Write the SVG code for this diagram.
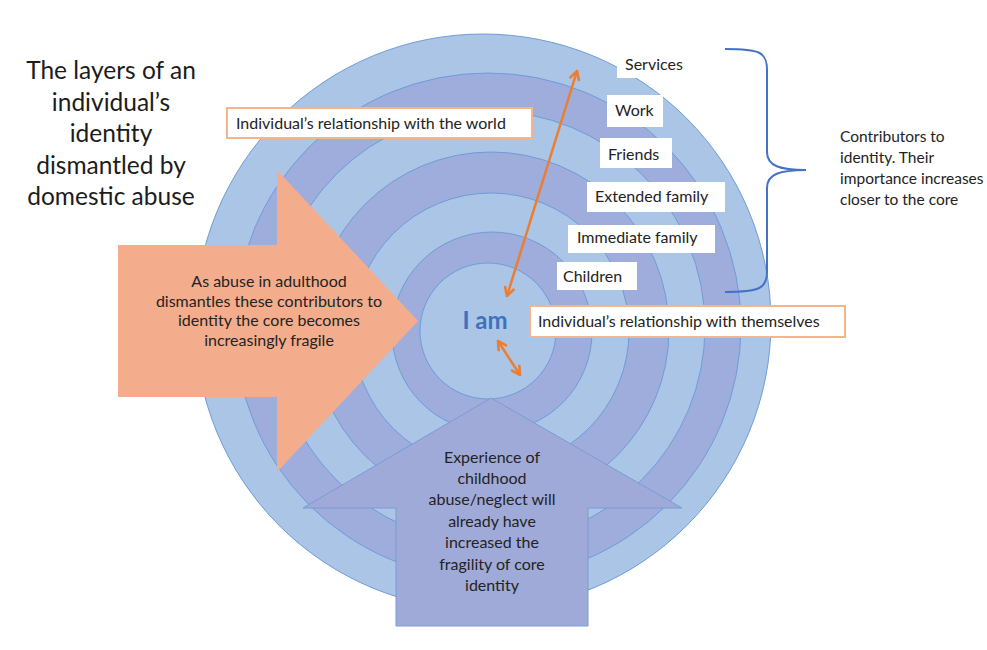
<svg xmlns="http://www.w3.org/2000/svg" width="987" height="650" viewBox="0 0 987 650">
<defs>
<style>
.ringL{fill:#abc5e7;stroke:#6e9cd8;stroke-width:1}
.ringP{fill:#9eaddb;stroke:#6e9cd8;stroke-width:1}
.t{font-family:Lato,"Open Sans","Liberation Sans",sans-serif;fill:#232323}
.lbl{font-size:16px}
.side{font-size:15.5px}
.ttl{font-size:24.5px;fill:#1c1c1c}
.box{fill:#ffffff}
.obox{fill:#ffffff;stroke:#f5b48a;stroke-width:2}
.conn{stroke:#ed7d31;stroke-width:2.5;fill:none}
</style>
<marker id="ah" viewBox="0 0 12 12" refX="10.5" refY="6" markerWidth="12" markerHeight="12" markerUnits="userSpaceOnUse" orient="auto-start-reverse">
<path d="M1.5,1 L10.5,6 L1.5,11" fill="none" stroke="#ed7d31" stroke-width="2.6"/>
</marker>
</defs>
<rect width="987" height="650" fill="#ffffff"/>

<g id="title">
<text class="t ttl" x="111" y="79" text-anchor="middle">The layers of an</text>
<text class="t ttl" x="111" y="111" text-anchor="middle">individual’s</text>
<text class="t ttl" x="111" y="142" text-anchor="middle">identity</text>
<text class="t ttl" x="111" y="174" text-anchor="middle">dismantled by</text>
<text class="t ttl" x="111" y="205" text-anchor="middle">domestic abuse</text>
</g>

<g id="rings">
<circle id="ring-services" class="ringL" cx="483" cy="322" r="288"/>
<circle id="ring-work" class="ringP" cx="488" cy="326" r="253"/>
<circle id="ring-friends" class="ringL" cx="489" cy="327" r="216"/>
<circle id="ring-extended" class="ringP" cx="491" cy="330" r="178"/>
<circle id="ring-immediate" class="ringL" cx="491" cy="331" r="138"/>
<circle id="ring-children" class="ringP" cx="492" cy="332" r="100"/>
<circle id="core" class="ringL" cx="488" cy="331" r="68"/>
</g>

<g id="core-label">
<text x="485" y="329" font-family="Lato,'Open Sans',sans-serif" font-size="24" font-weight="bold" fill="#3d72c1" text-anchor="middle">I am</text>
</g>

<g id="label-services"><rect class="box" x="617" y="55" width="72" height="23"/><text class="t lbl" x="625" y="70">Services</text></g>
<g id="label-work"><rect class="box" x="607" y="95" width="56" height="32"/><text class="t lbl" x="615" y="116">Work</text></g>
<g id="label-friends"><rect class="box" x="600" y="138" width="72" height="30"/><text class="t lbl" x="608" y="160">Friends</text></g>
<g id="label-extended"><rect class="box" x="587" y="182" width="138" height="30"/><text class="t lbl" x="595" y="202">Extended family</text></g>
<g id="label-immediate"><rect class="box" x="568" y="225" width="147" height="28"/><text class="t lbl" x="577" y="243">Immediate family</text></g>
<g id="label-children"><rect class="box" x="557" y="262" width="80" height="28"/><text class="t lbl" x="563" y="282">Children</text></g>

<g id="label-world"><rect class="obox" x="227" y="108" width="305" height="30"/><text class="t lbl" x="236" y="128.5">Individual’s relationship with the world</text></g>
<g id="label-themselves"><rect class="obox" x="530" y="306" width="315" height="31"/><text class="t lbl" x="538" y="327">Individual’s relationship with themselves</text></g>

<g id="brace">
<path d="M725,49 C760,49 767,52 767,70 L767,152 C767,166 780,170 806,170 C780,170 767,174 767,188 L767,272 C767,288 760,292 725,292" fill="none" stroke="#4472c4" stroke-width="2"/>
</g>
<g id="contributors">
<text class="t side" x="840" y="142">Contributors to</text>
<text class="t side" x="840" y="163">identity. Their</text>
<text class="t side" x="840" y="184">importance increases</text>
<text class="t side" x="840" y="205">closer to the core</text>
</g>

<g id="adult-arrow">
<path d="M118,245 L277,245 L277,170 L418,321 L277,472 L277,397 L118,397 Z" fill="#f4ad8c"/>
<text class="t lbl" x="269" y="287" text-anchor="middle">As abuse in adulthood</text>
<text class="t lbl" x="269" y="306.5" text-anchor="middle">dismantles these contributors to</text>
<text class="t lbl" x="269" y="326" text-anchor="middle">identity the core becomes</text>
<text class="t lbl" x="269" y="345.5" text-anchor="middle">increasingly fragile</text>
</g>

<g id="child-arrow">
<path d="M491,398 L682,508 L588,508 L588,626 L396,626 L396,508 L303,508 Z" fill="#a0aad9" stroke="#7b9bd6" stroke-width="1"/>
<text class="t lbl" x="492" y="463" text-anchor="middle">Experience of</text>
<text class="t lbl" x="492" y="484" text-anchor="middle">childhood</text>
<text class="t lbl" x="492" y="505" text-anchor="middle">abuse/neglect will</text>
<text class="t lbl" x="492" y="527" text-anchor="middle">already have</text>
<text class="t lbl" x="492" y="548" text-anchor="middle">increased the</text>
<text class="t lbl" x="492" y="570" text-anchor="middle">fragility of core</text>
<text class="t lbl" x="492" y="591" text-anchor="middle">identity</text>
</g>

<g id="connectors">
<line class="conn" x1="507" y1="296" x2="577" y2="71" marker-start="url(#ah)" marker-end="url(#ah)"/>
<line class="conn" x1="498" y1="341" x2="520" y2="375" marker-start="url(#ah)" marker-end="url(#ah)"/>
</g>
</svg>
